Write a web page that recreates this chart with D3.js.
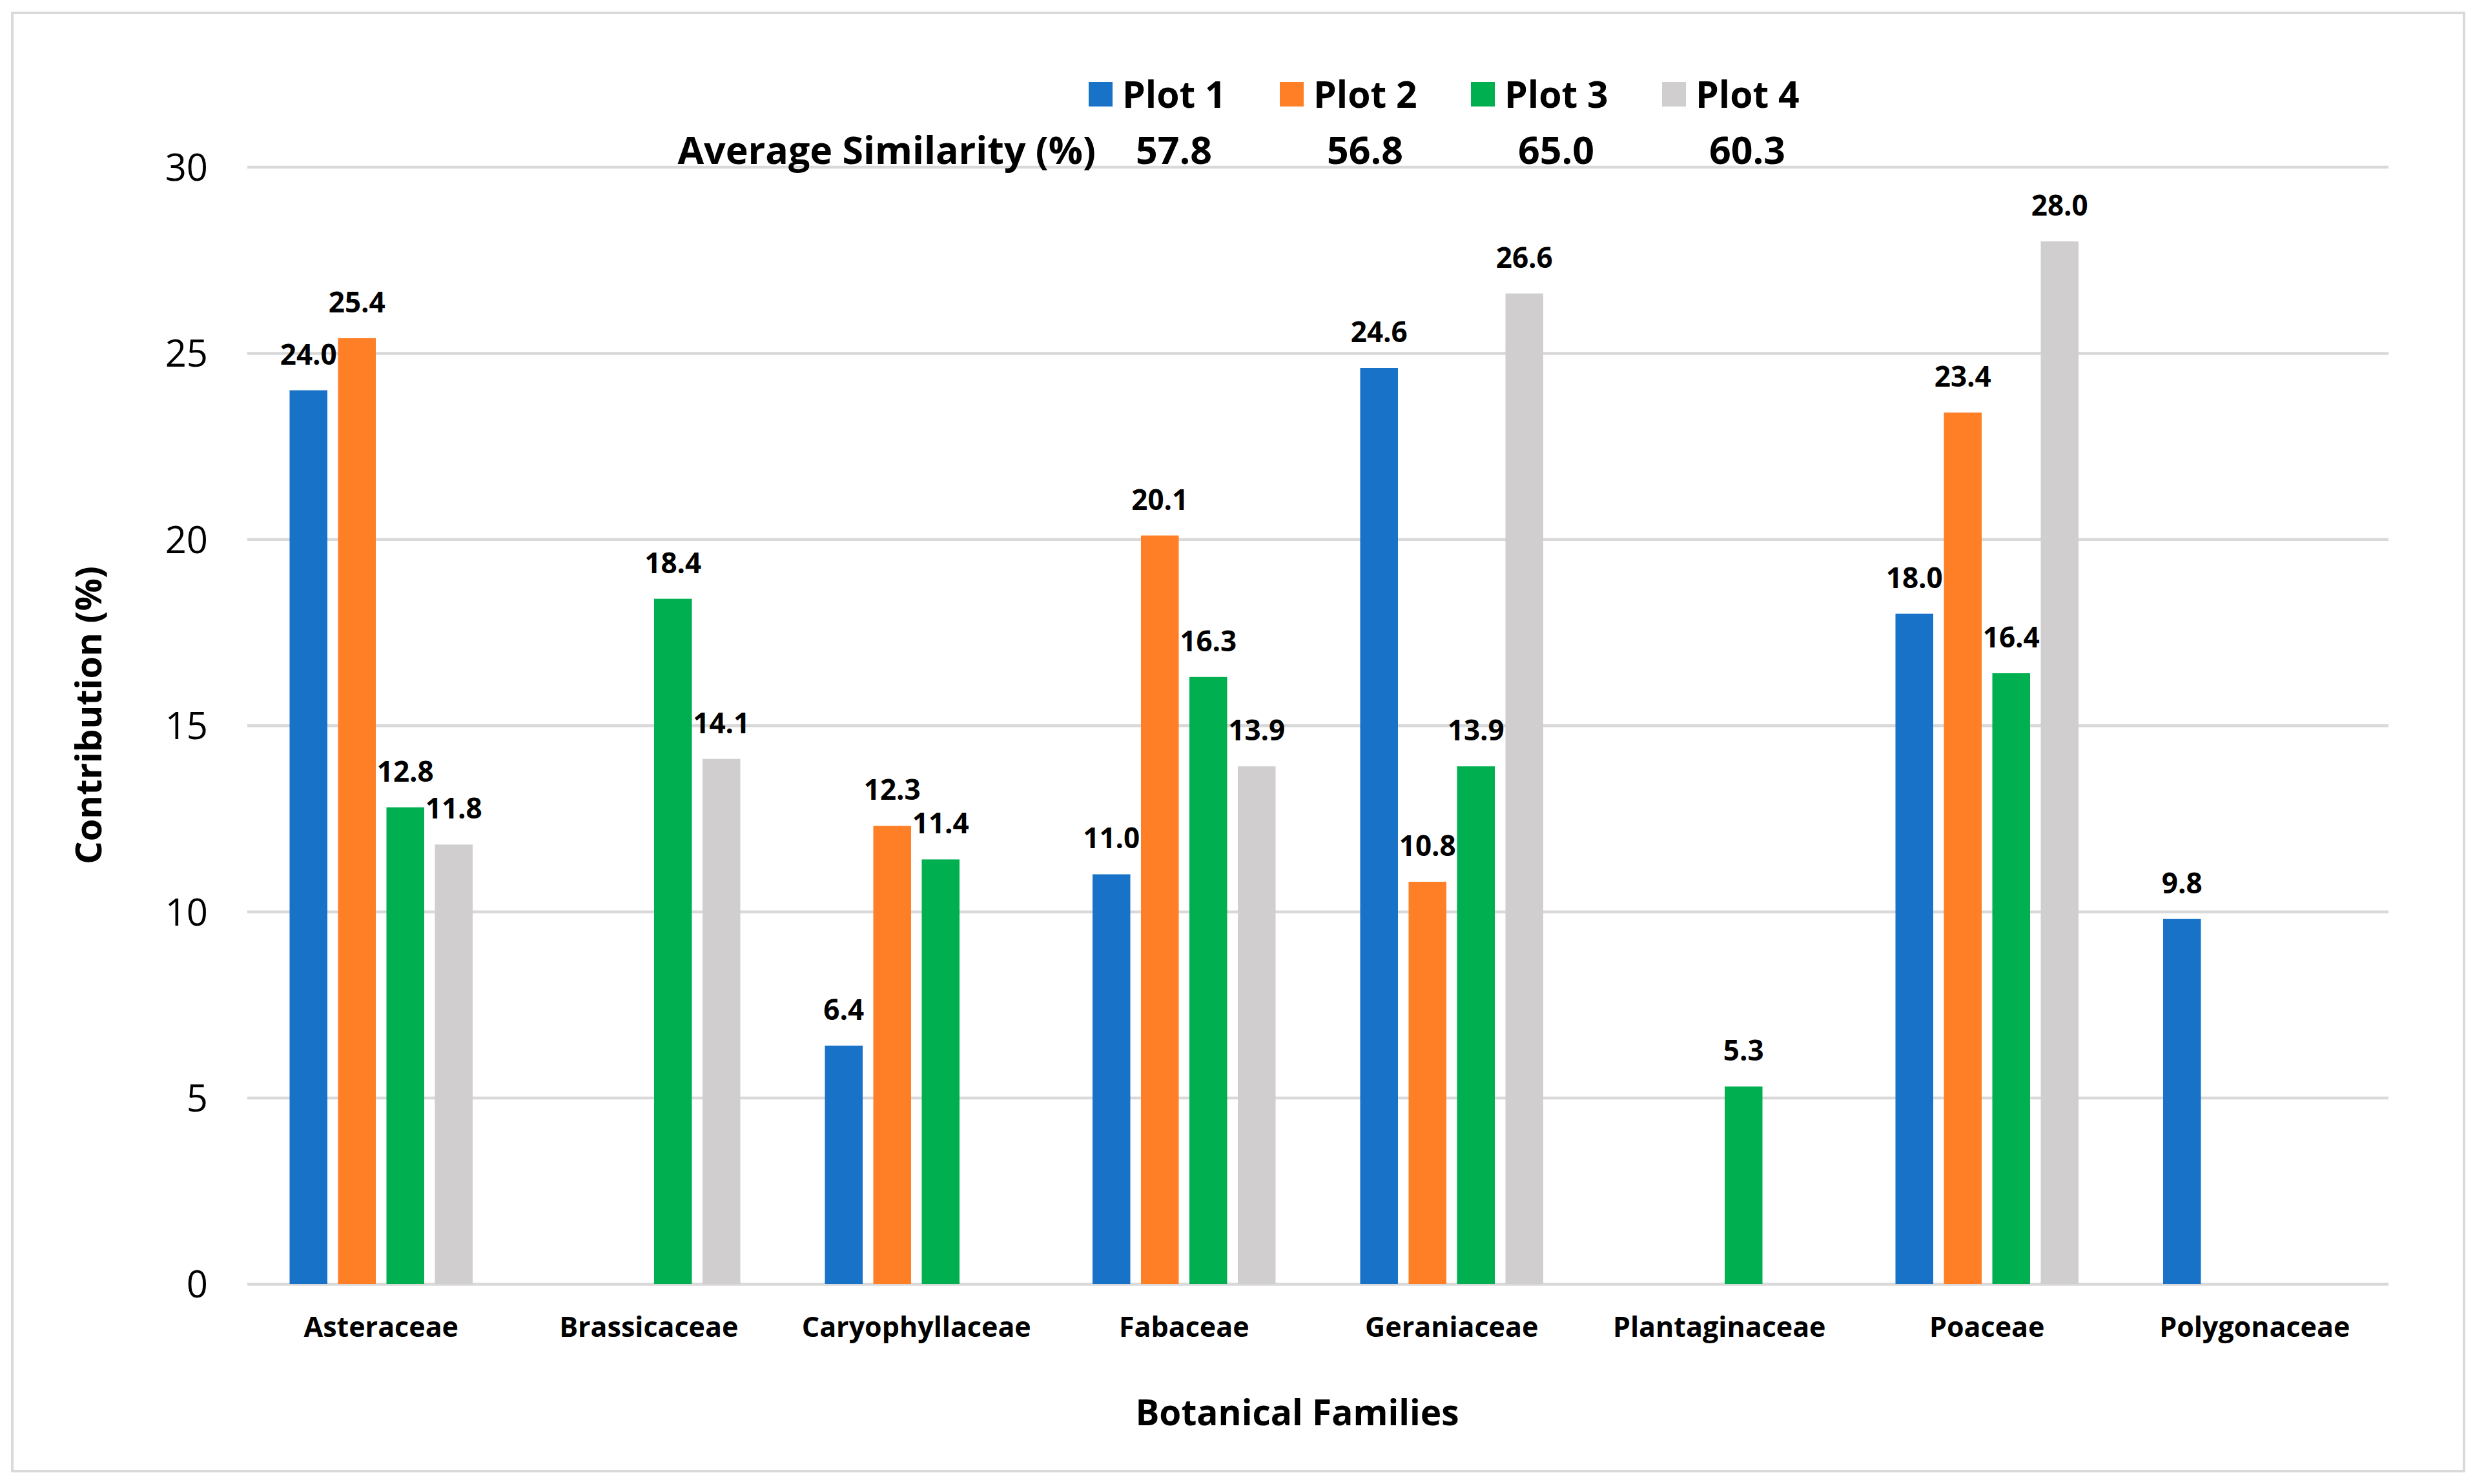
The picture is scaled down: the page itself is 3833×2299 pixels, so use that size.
<!DOCTYPE html>
<html>
<head>
<meta charset="utf-8">
<script src="https://cdn.jsdelivr.net/npm/d3@7/dist/d3.min.js"></script>
<style>
  html, body { margin: 0; padding: 0; background: #ffffff; }
  svg { display: block; }
  text { font-family: "Open Sans", "Noto Sans", sans-serif; fill: #000; }
</style>
</head>
<body>
<svg id="chart" width="3833" height="2299"></svg>
<script>
// ---- data ----
const categories = ["Asteraceae", "Brassicaceae", "Caryophyllaceae", "Fabaceae", "Geraniaceae", "Plantaginaceae", "Poaceae", "Polygonaceae"];
const seriesNames = ["Plot 1", "Plot 2", "Plot 3", "Plot 4"];
const plot1 = [24.0, null, 6.4, 11.0, 24.6, null, 18.0, 9.8];
const plot2 = [25.4, null, 12.3, 20.1, 10.8, null, 23.4, null];
const plot3 = [12.8, 18.4, 11.4, 16.3, 13.9, 5.3, 16.4, null];
const plot4 = [11.8, 14.1, null, 13.9, 26.6, null, 28.0, null];
const averageSimilarity = [57.8, 56.8, 65.0, 60.3];
const yTicks = [0, 5, 10, 15, 20, 25, 30];
const colors = ["#1772C8", "#FF7F27", "#00B050", "#D0CECE"];

const seriesValues = [plot1, plot2, plot3, plot4];

// ---- layout ----
const W = 3833, H = 2299;
const plotLeft = 383, plotRight = 3699, plotTop = 258.5, plotBottom = 1989;

const svg = d3.select("#chart");

// outer border
svg.append("rect")
  .attr("x", 19).attr("y", 20)
  .attr("width", 3816 - 19).attr("height", 2279 - 20)
  .attr("fill", "none").attr("stroke", "#d9d9d9").attr("stroke-width", 4);

const x0 = d3.scaleBand().domain(categories).range([plotLeft, plotRight]).padding(0);
const groupW = 283.5;
const x1 = d3.scaleBand().domain(seriesNames)
  .range([(x0.bandwidth() - groupW) / 2, (x0.bandwidth() + groupW) / 2])
  .paddingInner(0.22).paddingOuter(0);
const y = d3.scaleLinear().domain([0, 30]).range([plotBottom, plotTop]);

// gridlines
const yAxis = d3.axisLeft(y).tickValues(yTicks).tickSize(-(plotRight - plotLeft)).tickPadding(61).tickFormat(d3.format("d"));
const gy = svg.append("g").attr("transform", `translate(${plotLeft},0)`).call(yAxis);
gy.select(".domain").remove();
gy.selectAll(".tick line").attr("stroke", "#d9d9d9").attr("stroke-width", 4.5);
gy.selectAll(".tick text")
  .attr("font-size", 58).attr("font-family", "'Open Sans', sans-serif")
  .attr("fill", "#000").attr("dy", "0.36em");

// bars
const rows = [];
categories.forEach((c, ci) => {
  seriesNames.forEach((s, si) => {
    const v = seriesValues[si][ci];
    if (v !== null) rows.push({ c, s, si, v });
  });
});

const gBars = svg.append("g");
gBars.selectAll("rect").data(rows).join("rect")
  .attr("x", d => x0(d.c) + x1(d.s))
  .attr("y", d => y(d.v))
  .attr("width", x1.bandwidth())
  .attr("height", d => y(0) - y(d.v))
  .attr("fill", d => colors[d.si]);

// data labels
gBars.selectAll("text").data(rows).join("text")
  .attr("x", d => x0(d.c) + x1(d.s) + x1.bandwidth() / 2)
  .attr("y", d => y(d.v) - 40)
  .attr("text-anchor", "middle")
  .attr("font-size", 44).attr("font-weight", "bold")
  .text(d => d3.format(".1f")(d.v));

// x axis category labels
const xAxis = d3.axisBottom(x0).tickSize(0).tickPadding(0);
const gx = svg.append("g").attr("transform", `translate(0,${plotBottom})`).call(xAxis);
gx.select(".domain").remove();
gx.selectAll(".tick text")
  .attr("y", 82).attr("dy", 0)
  .attr("font-size", 43).attr("font-weight", "bold")
  .attr("font-family", "'Open Sans', sans-serif").attr("fill", "#000");

// axis titles
svg.append("text")
  .attr("x", (plotLeft + plotRight) / 2 - 32).attr("y", 2208)
  .attr("text-anchor", "middle")
  .attr("font-size", 55).attr("font-weight", "bold")
  .text("Botanical Families");

svg.append("text")
  .attr("transform", "translate(157,1108) rotate(-90)")
  .attr("text-anchor", "middle")
  .attr("font-size", 56).attr("font-weight", "bold")
  .text("Contribution (%)");

// legend
const legendX = d3.scaleBand().domain(seriesNames).range([1686, 1686 + 4 * 296]);
const gLeg = svg.append("g");
const items = gLeg.selectAll("g").data(seriesNames).join("g")
  .attr("transform", d => `translate(${legendX(d)},0)`);
items.append("rect")
  .attr("x", 0).attr("y", 127).attr("width", 37).attr("height", 38)
  .attr("fill", (d, i) => colors[i]);
items.append("text")
  .attr("x", 52).attr("y", 167)
  .attr("font-size", 57).attr("font-weight", "bold")
  .text(d => d);

// average similarity row
svg.append("text")
  .attr("x", 1697).attr("y", 254)
  .attr("text-anchor", "end")
  .attr("font-size", 59).attr("font-weight", "bold")
  .text("Average Similarity (%)");

svg.append("g").selectAll("text").data(averageSimilarity).join("text")
  .attr("x", (d, i) => legendX(seriesNames[i]) + 52 + 80)
  .attr("y", 254)
  .attr("text-anchor", "middle")
  .attr("font-size", 59).attr("font-weight", "bold")
  .text(d => d3.format(".1f")(d));
</script>
</body>
</html>
